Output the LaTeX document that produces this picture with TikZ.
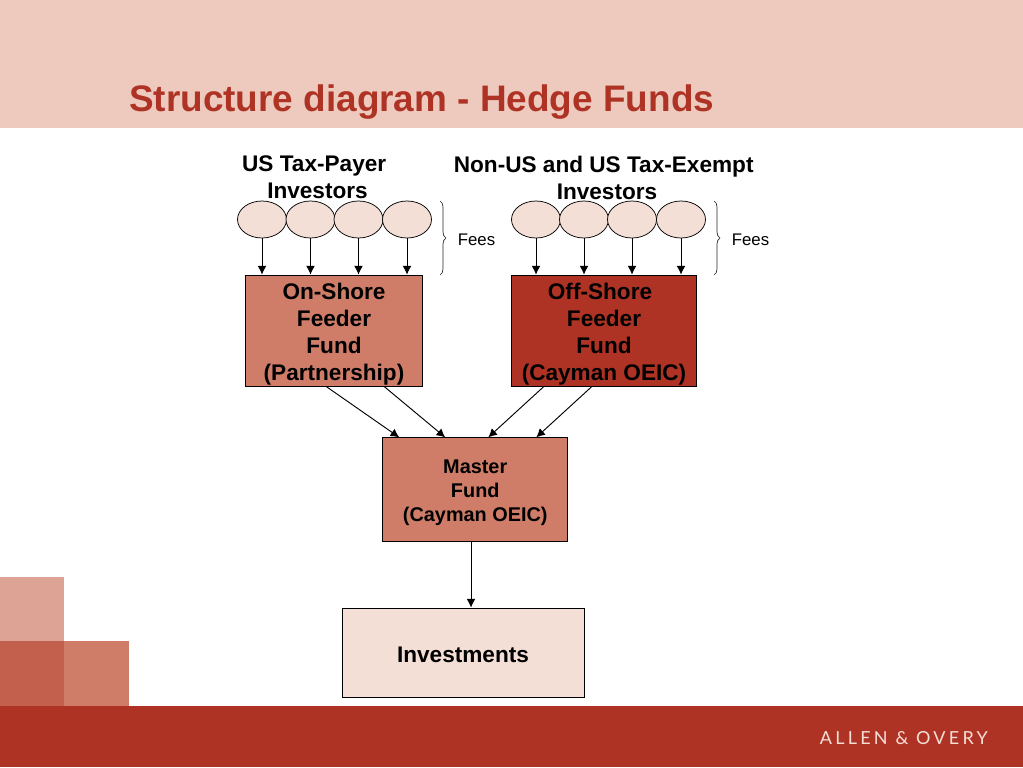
\documentclass[tikz,border=0pt]{standalone}
\usepackage{fontspec}
\setmainfont{Liberation Sans}
\newfontfamily\logofont[LetterSpace=18]{Lato}
\usetikzlibrary{arrows.meta,decorations.pathreplacing,shapes.geometric}
\definecolor{banner}{HTML}{EDC9BE}
\definecolor{brick}{HTML}{AF3325}
\definecolor{clay}{HTML}{CF7D68}
\definecolor{blush}{HTML}{F4DFD6}
\newcommand{\tailgap}{\kern 5pt}
\newcommand{\toplift}[1]{\rule{0pt}{#1}}
\tikzset{>={Latex[length=6.5pt,width=6.5pt]}}
\tikzset{
  investor/.style={draw,line width=0.55pt,fill=blush,ellipse,minimum width=36.75pt,minimum height=27.75pt,inner sep=0pt},
  fundbox/.style={draw,line width=0.55pt,inner sep=0pt,align=center,font=\bfseries\fontsize{16.95}{20.25}\selectfont},
  heading/.style={inner sep=0pt,align=center,font=\bfseries\fontsize{16.95}{20.25}\selectfont},
  feesnote/.style={inner sep=0pt,font=\fontsize{12.6}{14}\selectfont},
  feesbrace/.style={draw=black!85,line width=0.5pt,decorate,decoration={brace,amplitude=4.5pt}},
  flow/.style={->,line width=0.7pt},
}

\begin{document}
\begin{tikzpicture}[x=0.75pt,y=-0.75pt]
  \useasboundingbox (0,0) rectangle (1023,767);
  % slide background
  \fill[white]  (0,0) rectangle (1023,767);
  \fill[banner] (0,0) rectangle (1023,127.5);
  \fill[brick]  (0,706) rectangle (1023,767);
  \fill[clay!70!white] (0,577) rectangle (64,641);
  \fill[clay!60!brick] (0,641) rectangle (64,706);
  \fill[clay]   (64,641) rectangle (128.5,706);
  \node[anchor=base west,inner sep=0pt,text=brick,font=\bfseries\fontsize{27.7}{32}\selectfont] (title) at (129,111) {Structure diagram - Hedge Funds};
  \node[anchor=base east,inner sep=0pt,text=blush,font=\logofont\fontsize{13.5}{14}\selectfont] (logo) at (988,744) {ALLEN \& OVERY};

  % headings
  \node[heading] (ushead)  at (317.5,177.5) {US Tax-Payer\tailgap\\Investors};
  \node[heading] (nonhead) at (607,177.5) {Non-US and US Tax-Exempt\tailgap\\Investors};

  % investors
  \foreach \n/\x in {1/262,2/310.5,3/358.5,4/407}
    \node[investor] (a\n) at (\x,219.5) {};
  \foreach \n/\x in {1/536,2/584,3/632,4/681}
    \node[investor] (b\n) at (\x,219.5) {};

  % funds
  \node[fundbox,fill=clay,minimum width=132.75pt,minimum height=83.25pt]  (onshore)  at (334,330.5) {\toplift{18.5pt}On-Shore\\Feeder\\Fund\\(Partnership)};
  \node[fundbox,fill=brick,minimum width=138.75pt,minimum height=83.25pt] (offshore) at (604,330.5) {\toplift{18.5pt}Off-Shore\kern 6pt\\Feeder\\Fund\\(Cayman OEIC)};
  \node[fundbox,fill=clay,minimum width=138.75pt,minimum height=78pt,font=\bfseries\fontsize{14.9}{18}\selectfont] (master) at (475.25,489.75) {\toplift{15.4pt}Master\\Fund\\(Cayman OEIC)};
  \node[fundbox,fill=blush,minimum width=181.5pt,minimum height=66.75pt] (invest) at (463,652.5) {\toplift{14.5pt}Investments};

  % fees
  \coordinate (ab1) at (440,201);
  \coordinate (ab2) at (440,275);
  \coordinate (bb1) at (714,201);
  \coordinate (bb2) at (714,275);
  \draw[feesbrace] (ab1) -- (ab2);
  \draw[feesbrace] (bb1) -- (bb2);
  \node[feesnote] (afees) at (476.5,239.5) {Fees};
  \node[feesnote] (bfees) at (750.5,239.5) {Fees};

  % connectors
  \foreach \n in {1,2,3,4} {
    \draw[flow] (a\n) -- (a\n |- onshore.north);
    \draw[flow] (b\n) -- (b\n |- offshore.north);
  }
  \draw[flow] ([xshift=-6pt]onshore.south) -- ([xshift=-57pt]master.north);
  \draw[flow] ([xshift=37.5pt]onshore.south) -- ([xshift=-22.5pt]master.north);
  \draw[flow] ([xshift=-45pt]offshore.south) -- ([xshift=9.75pt]master.north);
  \draw[flow] ([xshift=-9pt]offshore.south) -- ([xshift=45.75pt]master.north);
  \draw[flow] ([xshift=6pt]invest.north |- master.south) -- ([xshift=6pt]invest.north);
\end{tikzpicture}
\end{document}
